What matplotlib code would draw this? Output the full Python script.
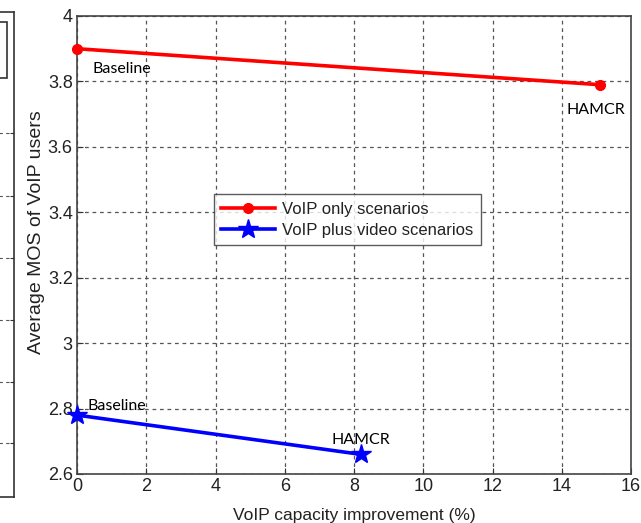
import matplotlib
matplotlib.use("Agg")
import matplotlib.pyplot as plt
from matplotlib.patches import Rectangle

# Data
voip_only_x = [0.0, 15.1]
voip_only_y = [3.90, 3.79]
voip_video_x = [0.0, 8.2]
voip_video_y = [2.78, 2.66]
series_labels = ["VoIP only scenarios", "VoIP plus video scenarios"]
point_labels = ["Baseline", "HAMCR"]
xticks = list(range(0, 17, 2))
yticks = [2.6, 2.8, 3.0, 3.2, 3.4, 3.6, 3.8, 4.0]
ytick_labels = ["2.6", "2.8", "3", "3.2", "3.4", "3.6", "3.8", "4"]

plt.rcParams['font.family'] = ['Liberation Sans', 'DejaVu Sans']

W, H = 641, 523
fig = plt.figure(figsize=(W / 100, H / 100), dpi=100)

# Fragment of neighbouring figure on the left
axl = fig.add_axes([-0.5, 1 - 497 / H, 0.5 + 14 / W, (497 - 12) / H])
axl.set_xlim(0, 1)
axl.set_ylim(497, 12)
axl.set_yticks([133, 196, 258, 320, 382, 443])
axl.set_yticklabels([])
axl.set_xticks([])
axl.yaxis.tick_right()
axl.tick_params(axis='y', direction='in', length=3, color='#333333', labelright=False)
axl.yaxis.grid(True, linestyle=(0, (3, 3)), color='#555555', linewidth=0.8)
for s in axl.spines.values():
    s.set_color('#333333')
    s.set_linewidth(1.2)
fig.patches.append(Rectangle((-0.05, 1 - 78 / H), 0.05 + 7 / W, (78 - 22) / H,
                             transform=fig.transFigure, fill=False,
                             edgecolor='#333333', linewidth=1.2))

# Main axes
L, R, T, B = 77, 631, 16, 474
ax = fig.add_axes([L / W, 1 - B / H, (R - L) / W, (B - T) / H])
ax.plot(voip_only_x, voip_only_y, color='#ff0000', linewidth=2.6, marker='o',
        markersize=7, label=series_labels[0], zorder=3, clip_on=False)
ax.plot(voip_video_x, voip_video_y, color='#0000ff', linewidth=2.6, marker='*',
        markersize=15, label=series_labels[1], zorder=3, clip_on=False)

ax.set_xlim(0, 16)
ax.set_ylim(2.6, 4.0)
ax.set_xticks(xticks)
ax.set_yticks(yticks)
ax.set_yticklabels(ytick_labels)
ax.grid(True, linestyle=(0, (3, 3)), color='#555555', linewidth=0.9)
ax.tick_params(axis='both', direction='in', length=4, labelsize=13,
               colors='#333333', labelcolor='#222222', pad=3)
for s in ax.spines.values():
    s.set_color('#444444')
    s.set_linewidth(1.2)

ax.set_xlabel("VoIP capacity improvement (%)", fontsize=12.5, color='#222222', labelpad=9)
ax.set_ylabel("Average MOS of VoIP users", fontsize=14, color='#222222', labelpad=2)
ax.yaxis.set_label_coords(-0.058, 0.528)

ann_font = dict(family=['Lato', 'DejaVu Sans'], fontsize=11.5, color='black')
ax.text(0.45, 3.838, point_labels[0], ha='left', va='center', **ann_font)
ax.text(15.0, 3.712, point_labels[1], ha='center', va='center', **ann_font)
ax.text(0.3, 2.787, point_labels[0], ha='left', va='bottom', **ann_font)
ax.text(8.2, 2.705, point_labels[1], ha='center', va='center', **ann_font)

leg = ax.legend(loc='center', bbox_to_anchor=(0.488, 0.555), fontsize=12,
                frameon=True, fancybox=False, handlelength=3.2,
                borderpad=0.45, labelspacing=0.35, handletextpad=0.45)
leg.get_frame().set_edgecolor('#333333')
leg.get_frame().set_linewidth(1.0)
for t in leg.get_texts():
    t.set_color('#222222')

fig.savefig("out.png", dpi=100)
